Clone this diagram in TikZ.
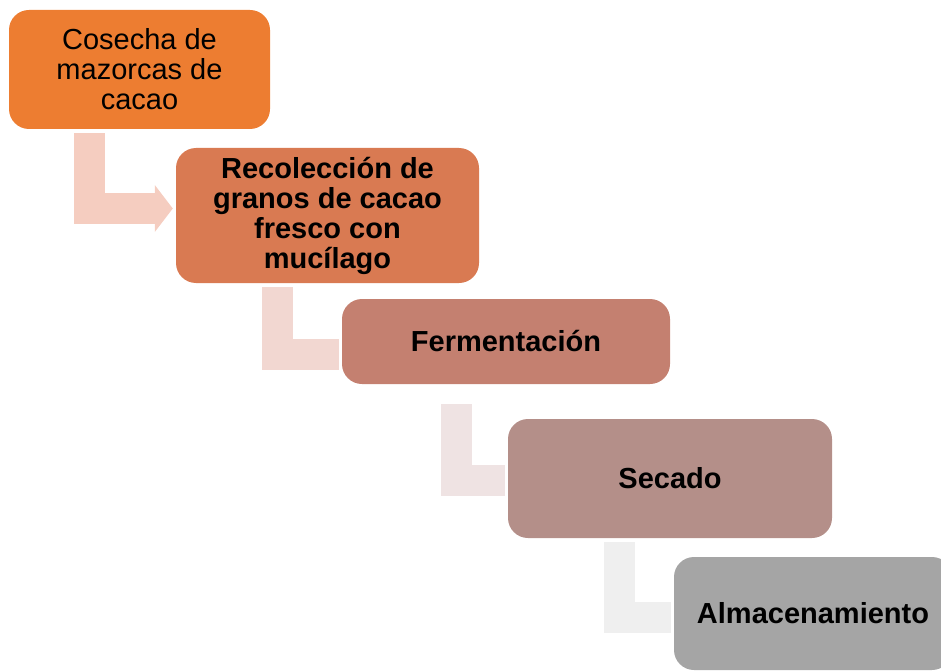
\documentclass[tikz,border=0pt]{standalone}
\usepackage{fontspec}
\setmainfont{Liberation Sans}
\usetikzlibrary{arrows.meta,calc}
\definecolor{cA}{HTML}{ED7D31}
\definecolor{cB}{HTML}{D97A52}
\definecolor{cC}{HTML}{C48070}
\definecolor{cD}{HTML}{B48F89}
\definecolor{cE}{HTML}{A5A5A5}
\definecolor{aA}{HTML}{F5CDC0}
\definecolor{aB}{HTML}{F2D7D1}
\definecolor{aC}{HTML}{EFE3E3}
\definecolor{aD}{HTML}{EFEFEF}
\tikzset{
  stepbox/.style={rectangle, rounded corners=20pt, inner sep=0pt, align=center,
    font=\fontsize{29}{30}\selectfont, text=black},
  bentarrow/.style={line width=31pt, line join=miter, line cap=butt},
}
\begin{document}
\begin{tikzpicture}[x=1pt,y=-1pt]
\useasboundingbox (0,0) rectangle (941,671);
% connectors first (behind boxes)
\node[stepbox, fill=cA, minimum width=261pt, minimum height=119pt] (b1) at (139.5,69.5) {Cosecha de\\mazorcas de\\cacao};
\node[stepbox, fill=cB, minimum width=303pt, minimum height=135pt, font=\fontsize{29}{30}\selectfont\bfseries] (b2) at (327.5,215.5) {Recolección de\\granos de cacao\\fresco con\\mucílago};
\node[stepbox, fill=cC, minimum width=328pt, minimum height=85pt, font=\fontsize{29}{30}\selectfont\bfseries] (b3) at (506,341.5) {Fermentación};
\node[stepbox, fill=cD, minimum width=324pt, minimum height=119pt, font=\fontsize{29}{30}\selectfont\bfseries] (b4) at (670,478.5) {Secado};
\node[stepbox, fill=cE, minimum width=278pt, minimum height=113pt, font=\fontsize{29}{30}\selectfont\bfseries] (b5) at (813,613.5) {Almacenamiento};
% connectors
\draw[bentarrow, aA, -{Triangle[length=18pt,width=46pt]}] ($(b1.south)+(-50,4)$) |- ($(b2.west)+(-3,-7)$);
\draw[bentarrow, aB] ($(b2.south)+(-50,4)$) |- ($(b3.west)+(-3,13)$);
\draw[bentarrow, aC] ($(b3.south)+(-50,20)$) |- ($(b4.west)+(-3,1.5)$);
\draw[bentarrow, aD] ($(b4.south)+(-50.5,4)$) |- ($(b5.west)+(-3,4)$);
\end{tikzpicture}
\end{document}
